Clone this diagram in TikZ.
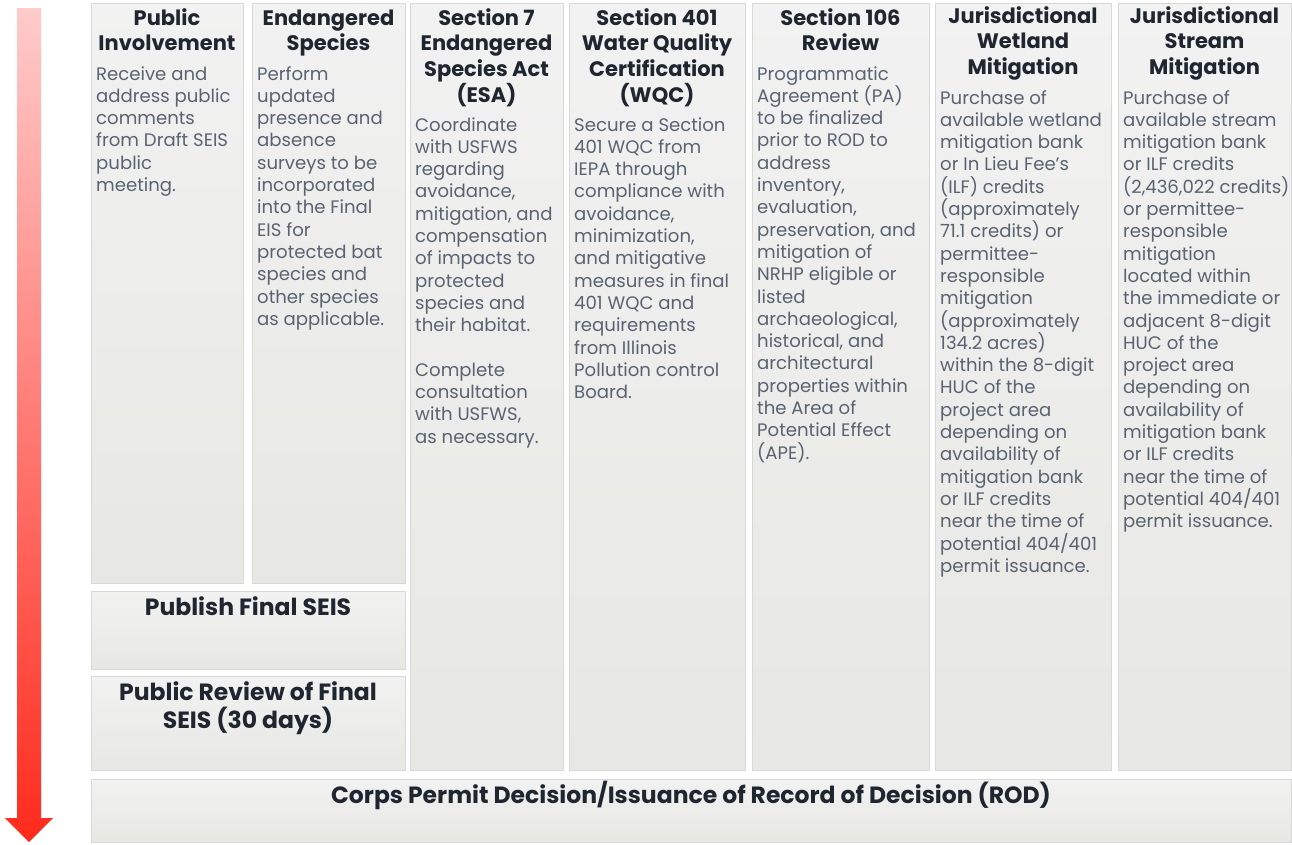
\documentclass[tikz,border=0pt]{standalone}
\usepackage{fontspec}
\setmainfont{Poppins}
\usetikzlibrary{calc}

\definecolor{boxtop}{HTML}{F2F2F2}
\definecolor{boxbot}{HTML}{E7E7E3}
\definecolor{boxline}{HTML}{D8D8D6}
\definecolor{headink}{HTML}{1F2630}
\definecolor{bodyink}{HTML}{5A6372}
\definecolor{arrtop}{HTML}{FFCBCB}
\definecolor{arrbot}{HTML}{FF2A1C}

\newcommand\headfont{\fontsize{21}{25.7}\selectfont\bfseries}
\newcommand\stepfont{\fontsize{23.5}{28}\selectfont\bfseries}
\newcommand\bodyfont{\fontsize{18.1}{22.3}\selectfont}

\tikzset{
  stagebox/.style={draw=boxline, line width=0.9pt, top color=boxtop, bottom color=boxbot,
    inner sep=0pt, outer sep=0pt, anchor=north west},
  headtxt/.style={inner sep=0pt, anchor=base, text=headink, font=\headfont},
  steptxt/.style={inner sep=0pt, anchor=base, text=headink, font=\stepfont},
  bodytxt/.style={inner sep=0pt, anchor=base west, text=bodyink, font=\bodyfont},
}

% box from (x1,y1) to (x2,y2), y measured downwards
\newcommand\stagerect[5]{%
  \node[stagebox, minimum width={#4-#2}, minimum height={#5-#3}] (#1) at (#2,#3) {};}

\begin{document}
\begin{tikzpicture}[x=1pt,y=-1pt]
\useasboundingbox (0,0) rectangle (1292,844);

% timeline arrow
\shade[top color=arrtop, bottom color=arrbot]
  (17,8) -- (41,8) -- (41,818) -- (53,818) -- (29,842) -- (5,818) -- (17,818) -- cycle;

% boxes
\stagerect{pub}{91}{3}{243}{583}
\stagerect{spec}{252}{3}{405}{583}
\stagerect{final}{91}{591}{405}{669}
\stagerect{review}{91}{676}{405}{770}
\stagerect{esa}{410}{3}{563}{770}
\stagerect{wqc}{569}{3}{745}{770}
\stagerect{nhpa}{752}{3}{929}{770}
\stagerect{wet}{935}{3}{1111}{770}
\stagerect{stream}{1118}{3}{1291}{770}
\stagerect{rod}{91}{779}{1291}{842}

% column headings
\node[headtxt] (pubh) at (167,25) {\parbox[t]{150pt}{\centering Public\\Involvement}};
\node[headtxt] (spech) at (328.5,25) {\parbox[t]{151pt}{\centering Endangered\\Species}};
\node[headtxt] (esah) at (486.5,25) {\parbox[t]{151pt}{\centering Section 7\\Endangered\\Species Act\\(ESA)}};
\node[headtxt] (wqch) at (657,25) {\parbox[t]{174pt}{\centering Section 401\\Water Quality\\Certification\\(WQC)}};
\node[headtxt] (nhpah) at (840.5,25) {\parbox[t]{175pt}{\centering Section 106\\Review}};
\node[headtxt] (weth) at (1023,23) {\parbox[t]{174pt}{\centering Jurisdictional\\Wetland\\Mitigation}};
\node[headtxt] (streamh) at (1204.5,23) {\parbox[t]{171pt}{\centering Jurisdictional\\Stream\\Mitigation}};

% column bodies
\node[bodytxt] (pubb) at (96,80) {\parbox[t]{146pt}{\raggedright
  Receive and\\address public\\comments\\from Draft SEIS\\public\\meeting.}};
\node[bodytxt] (specb) at (257,80) {\parbox[t]{146pt}{\raggedright
  Perform\\updated\\presence and\\absence\\surveys to be\\incorporated\\into the Final\\EIS for\\protected bat\\species and\\other species\\as applicable.}};
\node[bodytxt] (esab) at (415,131) {\parbox[t]{146pt}{\raggedright
  Coordinate\\with USFWS\\regarding\\avoidance,\\mitigation, and\\compensation\\of impacts to\\protected\\species and\\their habitat.\\[22.3pt]Complete\\consultation\\with USFWS,\\as necessary.}};
\node[bodytxt] (wqcb) at (574,131) {\parbox[t]{170pt}{\raggedright
  Secure a Section\\401 WQC from\\IEPA through\\compliance with\\avoidance,\\minimization,\\and mitigative\\measures in final\\401 WQC and\\requirements\\from Illinois\\Pollution control\\Board.}};
\node[bodytxt] (nhpab) at (757,80) {\parbox[t]{170pt}{\raggedright
  Programmatic\\Agreement (PA)\\to be finalized\\prior to ROD to\\address\\inventory,\\evaluation,\\preservation, and\\mitigation of\\NRHP eligible or\\listed\\archaeological,\\historical, and\\architectural\\properties within\\the Area of\\Potential Effect\\(APE).}};
\node[bodytxt] (wetb) at (940,104) {\parbox[t]{170pt}{\raggedright
  Purchase of\\available wetland\\mitigation bank\\or In Lieu Fee’s\\(ILF) credits\\(approximately\\71.1 credits) or\\permittee-\\responsible\\mitigation\\(approximately\\134.2 acres)\\within the 8-digit\\HUC of the\\project area\\depending on\\availability of\\mitigation bank\\or ILF credits\\near the time of\\potential 404/401\\permit issuance.}};
\node[bodytxt] (streamb) at (1123,104) {\parbox[t]{170pt}{\raggedright
  Purchase of\\available stream\\mitigation bank\\or ILF credits\\(2,436,022 credits)\\or permittee-\\responsible\\mitigation\\located within\\the immediate or\\adjacent 8-digit\\HUC of the\\project area\\depending on\\availability of\\mitigation bank\\or ILF credits\\near the time of\\potential 404/401\\permit issuance.}};

% lower-left and bottom steps
\node[steptxt] (finalh) at (248,615) {Publish Final SEIS};
\node[steptxt] (reviewh) at (248,700) {\parbox[t]{310pt}{\centering Public Review of Final\\SEIS (30 days)}};
\node[steptxt] (rodh) at (691,803) {Corps Permit Decision/Issuance of Record of Decision (ROD)};
\end{tikzpicture}
\end{document}
